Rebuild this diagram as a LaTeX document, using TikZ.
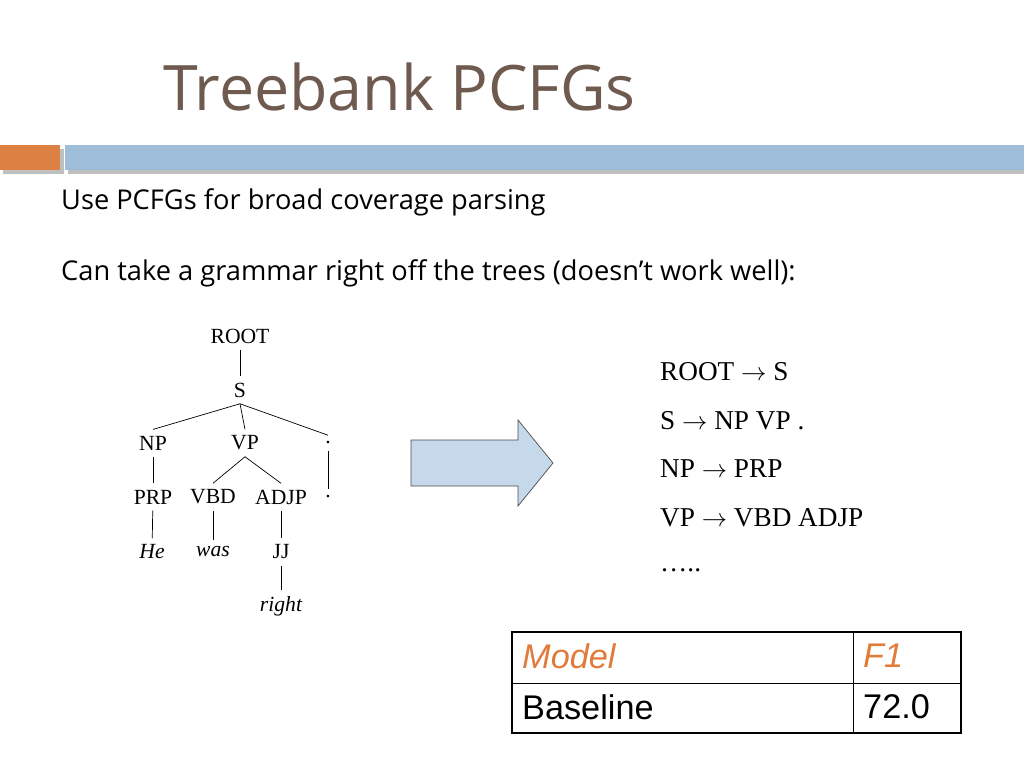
\documentclass[tikz,border=0pt]{standalone}
\usepackage{fontspec}
\setmainfont{Liberation Serif}
\newfontfamily\bodyfont{Open Sans}
\newfontfamily\tabfont{Liberation Sans}
\usepackage{xcolor}
\usetikzlibrary{positioning}
\definecolor{titlebrown}{HTML}{6E5A4E}
\definecolor{barorange}{HTML}{DD8043}
\definecolor{barblue}{HTML}{9EBDD8}
\definecolor{arrowfill}{HTML}{C6D9EB}
\definecolor{headorange}{HTML}{E07B39}

\begin{document}
\begin{tikzpicture}[
  x=0.02cm, y=-0.02cm,
  tnode/.style={font=\fontsize{12.3}{14}\selectfont, inner sep=3.5pt},
  tword/.style={tnode, font=\fontsize{12.3}{14}\selectfont\itshape},
  tedge/.style={thin},
  rule/.style={anchor=west, font=\fontsize{15.5}{18}\selectfont},
  body/.style={anchor=west, font=\bodyfont\fontsize{15.5}{18}\selectfont},
  cell/.style={anchor=west, font=\tabfont\fontsize{19.5}{22}\selectfont}
]
\useasboundingbox (0,0) rectangle (1024,768);

% Title and header bar
\node[anchor=base west, text=titlebrown, font=\bodyfont\fontsize{35.7}{40}\selectfont] (title) at (157,110) {Treebank PCFGs};
\fill[black!25] (3,149) rectangle (64,174);
\fill[black!25] (68,149) rectangle (1024,174);
\fill[barorange] (0,145) rectangle (60,170);
\fill[barblue] (65,145) rectangle (1024,170);

% Body text
\node[body] (line1) at (55,202) {Use PCFGs for broad coverage parsing};
\node[body] (line2) at (55,273) {Can take a grammar right off the trees (doesn’t work well):};

% Tree
\node[tnode] (root) at (240,336) {ROOT};
\node[tnode] (s) at (240,390) {S};
\node[tnode] (np) at (153,443) {NP};
\node[tnode] (vp) at (245,443) {VP};
\node[tnode] (dot) at (328,443) {.};
\node[tnode] (prp) at (153,497) {PRP};
\node[tnode] (vbd) at (213,497) {VBD};
\node[tnode] (adjp) at (281,497) {ADJP};
\node[tnode] (dotb) at (328,497) {.};
\node[tword] (he) at (152,552) {He};
\node[tword] (was) at (213,552) {was};
\node[tnode] (jj) at (281,552) {JJ};
\node[tword] (right) at (281,606) {right};

\draw[tedge] (root) -- (s);
\draw[tedge] (s.south) -- (np.north);
\draw[tedge] (s.south) -- (vp.north);
\draw[tedge] (s.south) -- (dot.north);
\draw[tedge] (np) -- (prp);
\draw[tedge] (vp.south) -- (vbd.north);
\draw[tedge] (vp.south) -- (adjp.north);
\draw[tedge] (dot.south) -- (dotb.north);
\draw[tedge] (prp) -- (he);
\draw[tedge] (vbd) -- (was);
\draw[tedge] (adjp) -- (jj);
\draw[tedge] (jj) -- (right);

% Block arrow
\draw[black!70, fill=arrowfill] (411,440) -- (518,440) -- (518,420) -- (553,463)
  -- (518,506) -- (518,486) -- (411,486) -- cycle;

% Rules
\node[rule] (r1) at (654,372) {ROOT $\rightarrow$ S};
\node[rule] (r2) at (654,421) {S $\rightarrow$ NP VP .};
\node[rule] (r3) at (654,469) {NP $\rightarrow$ PRP};
\node[rule] (r4) at (654,518) {VP $\rightarrow$ VBD ADJP};
\node[rule] (r5) at (654,570) {…..};

% Table
\draw[thick] (512,632) rectangle (961,733);
\draw (512,683) -- (961,683);
\draw (853,632) -- (853,733);
\node[cell, text=headorange, font=\tabfont\fontsize{19.5}{22}\selectfont\itshape] (hmodel) at (516,656) {Model};
\node[cell, text=headorange, font=\tabfont\fontsize{19.5}{22}\selectfont\itshape] (hf1) at (857,656) {F1};
\node[cell] (base) at (516,707) {Baseline};
\node[cell] (score) at (857,707) {72.0};
\end{tikzpicture}
\end{document}
